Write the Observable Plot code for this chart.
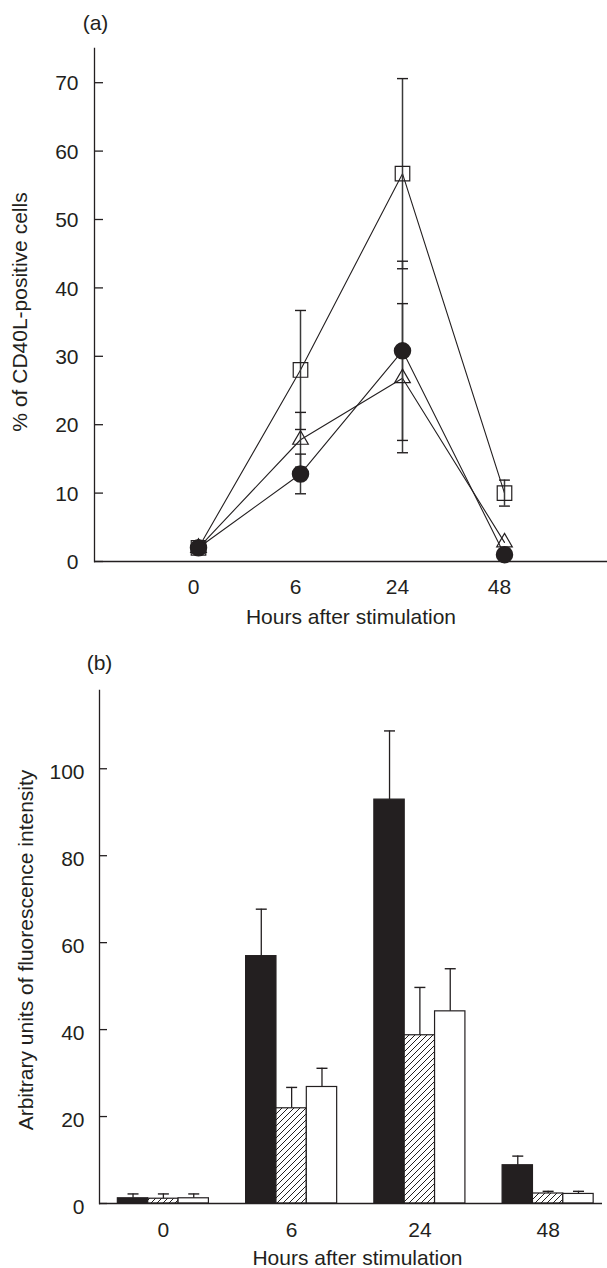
<!DOCTYPE html>
<html><head><meta charset="utf-8">
<script src="https://cdn.jsdelivr.net/npm/d3@7"></script>
<script src="https://cdn.jsdelivr.net/npm/@observablehq/plot@0.6"></script>
<style>
html,body{margin:0;padding:0;background:#fff;}
#chart svg{display:block;}
</style></head><body>
<svg width="0" height="0" style="position:absolute">
<defs><pattern id="hatch" patternUnits="userSpaceOnUse" width="6" height="6">
<rect width="6" height="6" fill="#fff"/>
<path d="M-1.5,1.5 L1.5,-1.5 M0,6 L6,0 M4.5,7.5 L7.5,4.5" stroke="#231f20" stroke-width="1"/>
</pattern></defs></svg>
<div id="chart"></div>
<script>
// ---------- data ----------
const hours = ["0", "6", "24", "48"];

// panel (a): % of CD40L-positive cells (mean, SD)
const pctSquare   = [2.0, 28.0, 56.7, 10.0];
const sdSquare    = [0,   8.7,  13.9, 1.9];
const pctTriangle = [2.0, 17.8, 26.8, 2.8];
const sdTriangle  = [0,   4.0,  10.9, 0];
const pctCircle   = [2.0, 12.8, 30.8, 1.0];
const sdCircle    = [0,   2.9,  13.1, 0];
const yTicksA = [0, 10, 20, 30, 40, 50, 60, 70];

// panel (b): arbitrary units of fluorescence intensity (mean, SD)
const mfiBlack   = [1.2, 56.9, 92.9, 8.8];
const errBlack   = [1.0, 10.8, 15.8, 2.1];
const mfiHatched = [1.1, 21.9, 38.7, 2.3];
const errHatched = [1.1, 4.8,  11.0, 0.5];
const mfiWhite   = [1.2, 26.8, 44.2, 2.2];
const errWhite   = [1.0, 4.3,  9.8,  0.6];
const yTicksB = [0, 20, 40, 60, 80, 100];

// ---------- shared ----------
const INK = "#231f20";
const FONT = "'Liberation Sans', Arial, Helvetica, sans-serif";
const capSymbol = {draw(ctx, size) { const w = Math.sqrt(size / Math.PI); ctx.moveTo(-w, 0); ctx.lineTo(w, 0); }};
const W = 607;

// ---------- panel (a) ----------
const tableA = hours.flatMap((h, i) => [
  {hour: h, series: "square", v: pctSquare[i], sd: sdSquare[i]},
  {hour: h, series: "triangle", v: pctTriangle[i], sd: sdTriangle[i]},
  {hour: h, series: "circle", v: pctCircle[i], sd: sdCircle[i]}
]);
const errA = tableA.filter(d => d.sd > 0);
const mA = {top: 48, bottom: 79, left: 94, right: 0};
const frameWA = W - mA.left - mA.right;

const plotA = Plot.plot({
  width: W, height: 640,
  marginTop: mA.top, marginBottom: mA.bottom, marginLeft: mA.left, marginRight: mA.right,
  style: {fontFamily: FONT, fontSize: "21px", color: INK, background: "#fff"},
  x: {type: "point", domain: hours, padding: 1},
  y: {domain: [0, 75]},
  marks: [
    Plot.axisY(yTicksA, {tickSize: 0, tickPadding: 16, dy: 1, label: null}),
    Plot.axisX({tickSize: 0, tickPadding: 18, dx: -5, label: null}),
    Plot.ruleY(yTicksA, {insetRight: frameWA - 9, stroke: INK, strokeWidth: 1.3}),
    Plot.frame({anchor: "left", stroke: INK, strokeWidth: 1.3}),
    Plot.ruleY([0], {stroke: INK, strokeWidth: 1.3}),
    Plot.text(["Hours after stimulation"], {frameAnchor: "bottom", textAnchor: "middle", lineAnchor: "bottom", dy: 62}),
    Plot.text(["% of CD40L-positive cells"], {frameAnchor: "left", textAnchor: "middle", lineAnchor: "middle", rotate: -90, dx: -74, dy: 7}),
    Plot.text(["(a)"], {frameAnchor: "top-left", textAnchor: "middle", lineAnchor: "middle", dx: 1, dy: -25}),
    Plot.line(tableA, {x: "hour", y: "v", z: "series", stroke: INK, strokeWidth: 1.1}),
    Plot.ruleX(errA, {x: "hour", y1: d => d.v - d.sd, y2: d => d.v + d.sd, stroke: "#3a3a3a", strokeWidth: 1.5}),
    Plot.dot(errA, {x: "hour", y: d => d.v + d.sd, symbol: capSymbol, r: 5.5, fill: "none", stroke: INK, strokeWidth: 1.4}),
    Plot.dot(errA, {x: "hour", y: d => d.v - d.sd, symbol: capSymbol, r: 5.5, fill: "none", stroke: INK, strokeWidth: 1.4}),
    Plot.dot(tableA.filter(d => d.series === "square"), {x: "hour", y: "v", symbol: "square", r: 8.2, fill: "none", stroke: INK, strokeWidth: 1.2}),
    Plot.dot(tableA.filter(d => d.series === "triangle"), {x: "hour", y: "v", symbol: "triangle", r: 5.8, fill: "none", stroke: INK, strokeWidth: 1.2}),
    Plot.dot(tableA.filter(d => d.series === "circle"), {x: "hour", y: "v", symbol: "circle", r: 8, fill: INK, stroke: INK})
  ]
});

// ---------- panel (b) ----------
const mB = {top: 50, bottom: 65, left: 99, right: 5};
const frameWB = W - mB.left - mB.right;
const pI = 0.29, pO = 0.106;
const step = frameWB / (hours.length - pI + 2 * pO);
const bw = step * (1 - pI);
const third = bw / 3;

const mk = (vals, errs, group) => hours.map((h, i) => ({hour: h, group, v: vals[i], e: errs[i]}));
const blackB = mk(mfiBlack, errBlack, "black");
const hatchB = mk(mfiHatched, errHatched, "hatched");
const whiteB = mk(mfiWhite, errWhite, "white");

const errMarks = (data, dx) => [
  Plot.ruleX(data, {x: "hour", y1: "v", y2: d => d.v + d.e, dx, stroke: INK, strokeWidth: 1.3}),
  Plot.dot(data, {x: "hour", y: d => d.v + d.e, dx, symbol: capSymbol, r: 5.5, fill: "none", stroke: INK, strokeWidth: 1.4})
];

const plotB = Plot.plot({
  width: W, height: 628,
  marginTop: mB.top, marginBottom: mB.bottom, marginLeft: mB.left, marginRight: mB.right,
  style: {fontFamily: FONT, fontSize: "21px", color: INK, background: "#fff"},
  x: {type: "band", domain: hours, paddingInner: pI, paddingOuter: pO, align: 0.675, round: false},
  y: {domain: [0, 118]},
  marks: [
    Plot.barY(blackB, {x: "hour", y: "v", insetLeft: 0, insetRight: 2 * third, fill: INK, stroke: INK, strokeWidth: 1.2}),
    Plot.barY(hatchB, {x: "hour", y: "v", insetLeft: third, insetRight: third, fill: "url(#hatch)", stroke: INK, strokeWidth: 1.2}),
    Plot.barY(whiteB, {x: "hour", y: "v", insetLeft: 2 * third, insetRight: 0, fill: "#fff", stroke: INK, strokeWidth: 1.2}),
    ...errMarks(blackB, -third),
    ...errMarks(hatchB, 0),
    ...errMarks(whiteB, third),
    Plot.axisY(yTicksB, {tickSize: 0, tickPadding: 15, dy: 4, label: null}),
    Plot.axisX({tickSize: 0, tickPadding: 19, label: null}),
    Plot.ruleY(yTicksB, {insetRight: frameWB - 8, stroke: INK, strokeWidth: 1.3}),
    Plot.frame({anchor: "left", stroke: INK, strokeWidth: 1.3}),
    Plot.ruleY([0], {stroke: INK, strokeWidth: 1.3}),
    Plot.text(["Hours after stimulation"], {frameAnchor: "bottom", textAnchor: "middle", lineAnchor: "bottom", dx: 6.5, dy: 61}),
    Plot.text(["Arbitrary units of fluorescence intensity"], {frameAnchor: "left", textAnchor: "middle", lineAnchor: "middle", rotate: -90, dx: -73, dy: 3}),
    Plot.text(["(b)"], {frameAnchor: "top-left", textAnchor: "middle", lineAnchor: "middle", dx: 0, dy: -27})
  ]
});

const root = document.getElementById("chart");
root.appendChild(plotA);
root.appendChild(plotB);
</script>
</body></html>
